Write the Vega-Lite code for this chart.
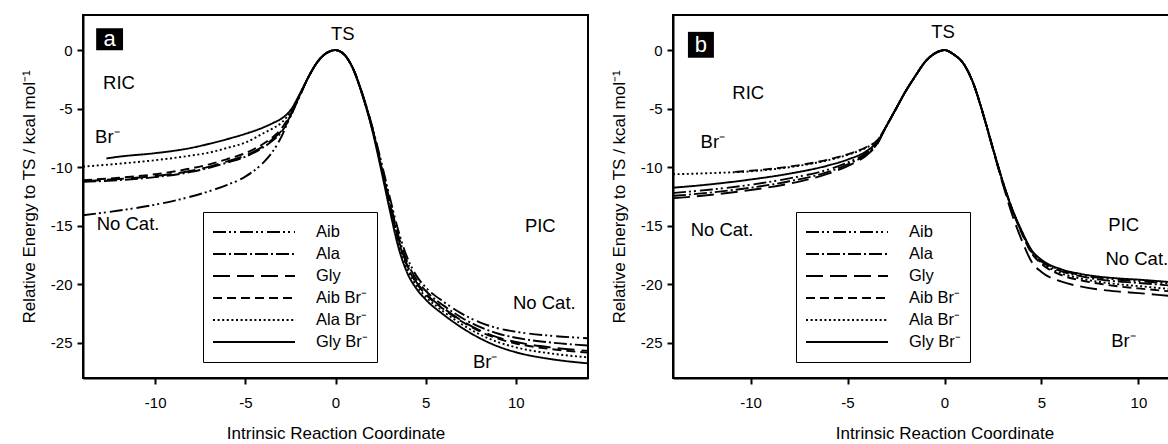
{
  "$schema": "https://vega.github.io/schema/vega-lite/v6.json",
  "padding": {"left": 19, "top": 14, "right": 0, "bottom": 0},
  "config": {
    "font": "Liberation Sans",
    "view": {"stroke": "black", "strokeWidth": 2},
    "axis": {"grid": false, "domainColor": "black", "domainWidth": 2, "tickColor": "black", "tickWidth": 2, "tickSize": 6, "labelFontSize": 15, "labelColor": "black", "labelFont": "Liberation Sans", "titleFont": "Liberation Sans", "titleFontSize": 17, "titleFontWeight": "normal", "titleColor": "black"},
    "axisX": {"labelPadding": 11, "titlePadding": 15},
    "axisY": {"labelPadding": 5, "titlePadding": 12}
  },
  "datasets": {
    "curvesA": [
      {"x": -14, "Aib": -14.1, "Ala": -11.25, "Gly": -11.2, "Aib Br⁻": -11.1, "Ala Br⁻": -9.95},
      {"x": -12.7, "Gly Br⁻": -9.25},
      {"x": -12, "Aib": -13.7, "Ala": -11.1, "Gly": -11.0, "Aib Br⁻": -10.9, "Ala Br⁻": -9.7, "Gly Br⁻": -9.1},
      {"x": -10, "Aib": -13.2, "Ala": -10.85, "Gly": -10.75, "Aib Br⁻": -10.6, "Ala Br⁻": -9.4, "Gly Br⁻": -8.8},
      {"x": -8, "Aib": -12.5, "Ala": -10.4, "Gly": -10.3, "Aib Br⁻": -10.1, "Ala Br⁻": -9.0, "Gly Br⁻": -8.35},
      {"x": -7, "Aib": -12.05, "Ala": -10.05, "Gly": -9.95, "Aib Br⁻": -9.75, "Ala Br⁻": -8.75, "Gly Br⁻": -8.0},
      {"x": -6, "Aib": -11.5, "Ala": -9.6, "Gly": -9.5, "Aib Br⁻": -9.3, "Ala Br⁻": -8.35, "Gly Br⁻": -7.6},
      {"x": -5, "Aib": -10.8, "Ala": -9.1, "Gly": -9.0, "Aib Br⁻": -8.8, "Ala Br⁻": -7.9, "Gly Br⁻": -7.15},
      {"x": -4, "Aib": -9.6, "Ala": -8.3, "Gly": -8.2, "Aib Br⁻": -8.0, "Ala Br⁻": -7.1, "Gly Br⁻": -6.6},
      {"x": -3.5, "Aib": -8.7, "Ala": -7.75, "Gly": -7.6, "Aib Br⁻": -7.45, "Ala Br⁻": -6.7, "Gly Br⁻": -6.25},
      {"x": -3, "Aib": -7.4, "Ala": -7.0, "Gly": -6.9, "Aib Br⁻": -6.7, "Ala Br⁻": -6.2, "Gly Br⁻": -5.85},
      {"x": -2.5, "Aib": -5.6, "Ala": -5.7, "Gly": -5.6, "Aib Br⁻": -5.5, "Ala Br⁻": -5.3, "Gly Br⁻": -5.15},
      {"x": -2, "Aib": -4.0, "Ala": -3.95, "Gly": -3.9, "Aib Br⁻": -3.9, "Ala Br⁻": -3.85, "Gly Br⁻": -3.8},
      {"x": -1.5, "Aib": -2.3, "Ala": -2.3, "Gly": -2.3, "Aib Br⁻": -2.3, "Ala Br⁻": -2.3, "Gly Br⁻": -2.3},
      {"x": -1, "Aib": -1.0, "Ala": -1.0, "Gly": -1.0, "Aib Br⁻": -1.0, "Ala Br⁻": -1.0, "Gly Br⁻": -1.0},
      {"x": -0.5, "Aib": -0.25, "Ala": -0.25, "Gly": -0.25, "Aib Br⁻": -0.25, "Ala Br⁻": -0.25, "Gly Br⁻": -0.25},
      {"x": 0, "Aib": 0, "Ala": 0, "Gly": 0, "Aib Br⁻": 0, "Ala Br⁻": 0, "Gly Br⁻": 0},
      {"x": 0.5, "Aib": -0.4, "Ala": -0.4, "Gly": -0.4, "Aib Br⁻": -0.4, "Ala Br⁻": -0.4, "Gly Br⁻": -0.4},
      {"x": 1, "Aib": -1.65, "Ala": -1.66, "Gly": -1.68, "Aib Br⁻": -1.68, "Ala Br⁻": -1.69, "Gly Br⁻": -1.7},
      {"x": 1.5, "Aib": -3.75, "Ala": -3.79, "Gly": -3.83, "Aib Br⁻": -3.84, "Ala Br⁻": -3.86, "Gly Br⁻": -3.9},
      {"x": 2, "Aib": -6.3, "Ala": -6.39, "Gly": -6.45, "Aib Br⁻": -6.47, "Ala Br⁻": -6.53, "Gly Br⁻": -6.6},
      {"x": 2.5, "Aib": -9.3, "Ala": -9.5, "Gly": -9.65, "Aib Br⁻": -9.7, "Ala Br⁻": -9.83, "Gly Br⁻": -10.0},
      {"x": 3, "Aib": -12.5, "Ala": -12.82, "Gly": -13.05, "Aib Br⁻": -13.13, "Ala Br⁻": -13.34, "Gly Br⁻": -13.6},
      {"x": 3.5, "Aib": -15.5, "Ala": -15.91, "Gly": -16.2, "Aib Br⁻": -16.3, "Ala Br⁻": -16.56, "Gly Br⁻": -16.9},
      {"x": 4, "Aib": -17.8, "Ala": -18.18, "Gly": -18.45, "Aib Br⁻": -18.54, "Ala Br⁻": -18.79, "Gly Br⁻": -19.1},
      {"x": 4.5, "Aib": -19.3, "Ala": -19.62, "Gly": -19.85, "Aib Br⁻": -19.93, "Ala Br⁻": -20.14, "Gly Br⁻": -20.4},
      {"x": 5, "Aib": -20.25, "Ala": -20.55, "Gly": -20.78, "Aib Br⁻": -20.85, "Ala Br⁻": -21.05, "Gly Br⁻": -21.3},
      {"x": 6, "Aib": -21.5, "Ala": -21.82, "Gly": -22.05, "Aib Br⁻": -22.13, "Ala Br⁻": -22.34, "Gly Br⁻": -22.6},
      {"x": 7, "Aib": -22.5, "Ala": -22.85, "Gly": -23.1, "Aib Br⁻": -23.18, "Ala Br⁻": -23.41, "Gly Br⁻": -23.7},
      {"x": 8, "Aib": -23.25, "Ala": -23.64, "Gly": -23.93, "Aib Br⁻": -24.02, "Ala Br⁻": -24.28, "Gly Br⁻": -24.6},
      {"x": 9, "Aib": -23.75, "Ala": -24.2, "Gly": -24.53, "Aib Br⁻": -24.63, "Ala Br⁻": -24.93, "Gly Br⁻": -25.3},
      {"x": 10, "Aib": -24.05, "Ala": -24.56, "Gly": -24.93, "Aib Br⁻": -25.05, "Ala Br⁻": -25.38, "Gly Br⁻": -25.8},
      {"x": 12, "Aib": -24.4, "Ala": -24.98, "Gly": -25.4, "Aib Br⁻": -25.54, "Ala Br⁻": -25.92, "Gly Br⁻": -26.4},
      {"x": 14, "Aib": -24.6, "Ala": -25.22, "Gly": -25.68, "Aib Br⁻": -25.83, "Ala Br⁻": -26.23, "Gly Br⁻": -26.75}
    ],
    "curvesB": [
      {"x": -14, "Aib": -12.2, "Ala": -12.45, "Gly": -12.65, "Ala Br⁻": -10.6, "Gly Br⁻": -11.75},
      {"x": -12, "Aib": -11.9, "Ala": -12.15, "Gly": -12.35, "Ala Br⁻": -10.5, "Gly Br⁻": -11.45},
      {"x": -10.8, "Aib Br⁻": -10.4},
      {"x": -10, "Aib": -11.5, "Ala": -11.75, "Gly": -11.95, "Aib Br⁻": -10.3, "Ala Br⁻": -10.35, "Gly Br⁻": -11.05},
      {"x": -8, "Aib": -10.95, "Ala": -11.2, "Gly": -11.4, "Aib Br⁻": -9.95, "Ala Br⁻": -10.0, "Gly Br⁻": -10.55},
      {"x": -6, "Aib": -10.2, "Ala": -10.4, "Gly": -10.55, "Aib Br⁻": -9.35, "Ala Br⁻": -9.4, "Gly Br⁻": -9.85},
      {"x": -5, "Aib": -9.6, "Ala": -9.75, "Gly": -9.9, "Aib Br⁻": -8.9, "Ala Br⁻": -8.95, "Gly Br⁻": -9.35},
      {"x": -4, "Aib": -8.75, "Ala": -8.85, "Gly": -8.95, "Aib Br⁻": -8.25, "Ala Br⁻": -8.3, "Gly Br⁻": -8.6},
      {"x": -3.5, "Aib": -8.0, "Ala": -8.05, "Gly": -8.1, "Aib Br⁻": -7.75, "Ala Br⁻": -7.8, "Gly Br⁻": -7.9},
      {"x": -3, "Aib": -6.5, "Ala": -6.5, "Gly": -6.5, "Aib Br⁻": -6.5, "Ala Br⁻": -6.5, "Gly Br⁻": -6.5},
      {"x": -2.5, "Aib": -5.0, "Ala": -5.0, "Gly": -5.0, "Aib Br⁻": -5.0, "Ala Br⁻": -5.0, "Gly Br⁻": -5.0},
      {"x": -2, "Aib": -3.5, "Ala": -3.5, "Gly": -3.5, "Aib Br⁻": -3.5, "Ala Br⁻": -3.5, "Gly Br⁻": -3.5},
      {"x": -1.5, "Aib": -2.2, "Ala": -2.2, "Gly": -2.2, "Aib Br⁻": -2.2, "Ala Br⁻": -2.2, "Gly Br⁻": -2.2},
      {"x": -1, "Aib": -1.0, "Ala": -1.0, "Gly": -1.0, "Aib Br⁻": -1.0, "Ala Br⁻": -1.0, "Gly Br⁻": -1.0},
      {"x": -0.5, "Aib": -0.28, "Ala": -0.28, "Gly": -0.28, "Aib Br⁻": -0.28, "Ala Br⁻": -0.28, "Gly Br⁻": -0.28},
      {"x": 0, "Aib": 0, "Ala": 0, "Gly": 0, "Aib Br⁻": 0, "Ala Br⁻": 0, "Gly Br⁻": 0},
      {"x": 0.5, "Aib": -0.4, "Ala": -0.4, "Gly": -0.4, "Aib Br⁻": -0.4, "Ala Br⁻": -0.4, "Gly Br⁻": -0.4},
      {"x": 1, "Aib": -1.2, "Ala": -1.2, "Gly": -1.2, "Aib Br⁻": -1.2, "Ala Br⁻": -1.2, "Gly Br⁻": -1.2},
      {"x": 1.5, "Aib": -2.9, "Ala": -2.9, "Gly": -2.9, "Aib Br⁻": -2.9, "Ala Br⁻": -2.9, "Gly Br⁻": -2.9},
      {"x": 2, "Aib": -5.5, "Ala": -5.5, "Gly": -5.55, "Aib Br⁻": -5.5, "Ala Br⁻": -5.5, "Gly Br⁻": -5.5},
      {"x": 2.5, "Aib": -8.4, "Ala": -8.42, "Gly": -8.5, "Aib Br⁻": -8.42, "Ala Br⁻": -8.42, "Gly Br⁻": -8.4},
      {"x": 3, "Aib": -11.2, "Ala": -11.25, "Gly": -11.4, "Aib Br⁻": -11.25, "Ala Br⁻": -11.25, "Gly Br⁻": -11.2},
      {"x": 3.5, "Aib": -13.62, "Ala": -13.65, "Gly": -14.1, "Aib Br⁻": -13.7, "Ala Br⁻": -13.68, "Gly Br⁻": -13.6},
      {"x": 4, "Aib": -15.55, "Ala": -15.6, "Gly": -16.3, "Aib Br⁻": -15.7, "Ala Br⁻": -15.65, "Gly Br⁻": -15.5},
      {"x": 4.5, "Aib": -17.15, "Ala": -17.22, "Gly": -18.1, "Aib Br⁻": -17.37, "Ala Br⁻": -17.3, "Gly Br⁻": -17.1},
      {"x": 5, "Aib": -17.97, "Ala": -18.05, "Gly": -18.95, "Aib Br⁻": -18.25, "Ala Br⁻": -18.15, "Gly Br⁻": -17.9},
      {"x": 6, "Aib": -18.78, "Ala": -18.88, "Gly": -19.75, "Aib Br⁻": -19.2, "Ala Br⁻": -19.05, "Gly Br⁻": -18.7},
      {"x": 7, "Aib": -19.2, "Ala": -19.3, "Gly": -20.18, "Aib Br⁻": -19.65, "Ala Br⁻": -19.5, "Gly Br⁻": -19.1},
      {"x": 8, "Aib": -19.45, "Ala": -19.6, "Gly": -20.45, "Aib Br⁻": -19.95, "Ala Br⁻": -19.8, "Gly Br⁻": -19.35},
      {"x": 9, "Aib": -19.61, "Ala": -19.77, "Gly": -20.62, "Aib Br⁻": -20.18, "Ala Br⁻": -20.0, "Gly Br⁻": -19.5},
      {"x": 10, "Aib": -19.72, "Ala": -19.88, "Gly": -20.75, "Aib Br⁻": -20.35, "Ala Br⁻": -20.15, "Gly Br⁻": -19.6},
      {"x": 12, "Aib": -19.98, "Ala": -20.15, "Gly": -21.05, "Aib Br⁻": -20.65, "Ala Br⁻": -20.45, "Gly Br⁻": -19.85},
      {"x": 14, "Aib": -20.2, "Ala": -20.35, "Gly": -21.3, "Aib Br⁻": -20.9, "Ala Br⁻": -20.7, "Gly Br⁻": -20.05}
    ],
    "boxA": [{"x": -13.27, "xe": -11.78, "y": 1.86, "ye": 0, "cx": -12.52, "cy": 0.93, "t": "a"}],
    "boxB": [{"x": -13.23, "xe": -11.89, "y": 1.56, "ye": -0.65, "cx": -12.56, "cy": 0.45, "t": "b"}],
    "tsA": [{"x": 0.4, "y": 1.41, "t": "TS"}],
    "tsB": [{"x": -0.08, "y": 1.56, "t": "TS"}],
    "labelsA": [
      {"x": -12.89, "y": -2.8, "t": "RIC"},
      {"x": -13.33, "y": -7.44, "t": "Br⁻"},
      {"x": -13.24, "y": -14.83, "t": "No Cat."},
      {"x": 10.5, "y": -15.0, "t": "PIC"},
      {"x": 9.84, "y": -21.6, "t": "No Cat."},
      {"x": 7.62, "y": -26.6, "t": "Br⁻"}
    ],
    "labelsB": [
      {"x": -10.94, "y": -3.68, "t": "RIC"},
      {"x": -12.58, "y": -7.85, "t": "Br⁻"},
      {"x": -13.09, "y": -15.35, "t": "No Cat."},
      {"x": 8.45, "y": -14.92, "t": "PIC"},
      {"x": 8.3, "y": -17.8, "t": "No Cat."},
      {"x": 8.6, "y": -24.8, "t": "Br⁻"}
    ]
  },
  "spacing": 20,
  "resolve": {"scale": {"x": "independent", "y": "independent", "strokeDash": "independent"}, "legend": {"strokeDash": "independent"}, "axis": {"x": "independent", "y": "independent"}},
  "hconcat": [
    {
      "width": 505, "height": 363,
      "layer": [
        {
          "data": {"name": "curvesA"},
          "transform": [{"fold": ["Aib", "Ala", "Gly", "Aib Br⁻", "Ala Br⁻", "Gly Br⁻"], "as": ["series", "val"]}, {"filter": "isValid(datum.val)"}],
          "mark": {"type": "line", "color": "black", "strokeWidth": 1.9, "interpolate": "monotone", "clip": true},
          "encoding": {
            "x": {"field": "x", "type": "quantitative", "title": "Intrinsic Reaction Coordinate", "scale": {"domain": [-14, 14], "nice": false}, "axis": {"values": [-10, -5, 0, 5, 10], "labelExpr": "replace(datum.label, '−', '-')"}},
            "y": {"field": "val", "type": "quantitative", "title": "Relative Energy to TS / kcal mol⁻¹", "scale": {"domain": [-28, 3], "nice": false}, "axis": {"values": [-25, -20, -15, -10, -5, 0], "labelExpr": "replace(datum.label, '−', '-')"}},
            "strokeDash": {"field": "series", "type": "nominal", "scale": {"domain": ["Aib", "Ala", "Gly", "Aib Br⁻", "Ala Br⁻", "Gly Br⁻"], "range": [[13, 3, 2, 3, 2, 4], [13, 3, 2, 3], [17, 7], [9, 5], [2, 2.6], [1, 0]]},
              "legend": {"orient": "none", "legendX": 120, "legendY": 197, "title": null, "symbolType": "stroke", "symbolSize": 6724, "symbolStrokeWidth": 1.9, "symbolStrokeColor": "black", "clipHeight": 22, "rowPadding": 0, "labelOffset": 20, "labelFontSize": 16.5, "labelFont": "Liberation Sans", "labelColor": "black", "labelLimit": 200, "padding": 9, "strokeColor": "black", "fillColor": "white"}}
          }
        },
        {
          "data": {"name": "boxA"},
          "mark": {"type": "rect", "color": "black"},
          "encoding": {"x": {"field": "x", "type": "quantitative", "title": "Intrinsic Reaction Coordinate"}, "x2": {"field": "xe"}, "y": {"field": "y", "type": "quantitative", "title": "Relative Energy to TS / kcal mol⁻¹"}, "y2": {"field": "ye"}}
        },
        {
          "data": {"name": "boxA"},
          "mark": {"type": "text", "color": "white", "fontSize": 22, "align": "center", "baseline": "middle", "font": "Liberation Sans"},
          "encoding": {"x": {"field": "cx", "type": "quantitative", "title": "Intrinsic Reaction Coordinate"}, "y": {"field": "cy", "type": "quantitative", "title": "Relative Energy to TS / kcal mol⁻¹"}, "text": {"field": "t"}}
        },
        {
          "data": {"name": "tsA"},
          "mark": {"type": "text", "color": "black", "fontSize": 18.5, "align": "center", "baseline": "middle", "font": "Liberation Sans"},
          "encoding": {"x": {"field": "x", "type": "quantitative", "title": "Intrinsic Reaction Coordinate"}, "y": {"field": "y", "type": "quantitative", "title": "Relative Energy to TS / kcal mol⁻¹"}, "text": {"field": "t"}}
        },
        {
          "data": {"name": "labelsA"},
          "mark": {"type": "text", "color": "black", "fontSize": 18.5, "align": "left", "baseline": "middle", "font": "Liberation Sans"},
          "encoding": {"x": {"field": "x", "type": "quantitative", "title": "Intrinsic Reaction Coordinate"}, "y": {"field": "y", "type": "quantitative", "title": "Relative Energy to TS / kcal mol⁻¹"}, "text": {"field": "t"}}
        }
      ]
    },
    {
      "width": 543, "height": 363,
      "layer": [
        {
          "data": {"name": "curvesB"},
          "transform": [{"fold": ["Aib", "Ala", "Gly", "Aib Br⁻", "Ala Br⁻", "Gly Br⁻"], "as": ["series", "val"]}, {"filter": "isValid(datum.val)"}],
          "mark": {"type": "line", "color": "black", "strokeWidth": 1.9, "interpolate": "monotone", "clip": true},
          "encoding": {
            "x": {"field": "x", "type": "quantitative", "title": "Intrinsic Reaction Coordinate", "scale": {"domain": [-14, 14], "nice": false}, "axis": {"values": [-10, -5, 0, 5, 10], "labelExpr": "replace(datum.label, '−', '-')"}},
            "y": {"field": "val", "type": "quantitative", "title": "Relative Energy to TS / kcal mol⁻¹", "scale": {"domain": [-28, 3], "nice": false}, "axis": {"values": [-25, -20, -15, -10, -5, 0], "labelExpr": "replace(datum.label, '−', '-')"}},
            "strokeDash": {"field": "series", "type": "nominal", "scale": {"domain": ["Aib", "Ala", "Gly", "Aib Br⁻", "Ala Br⁻", "Gly Br⁻"], "range": [[13, 3, 2, 3, 2, 4], [13, 3, 2, 3], [17, 7], [9, 5], [2, 2.6], [1, 0]]},
              "legend": {"orient": "none", "legendX": 123, "legendY": 197, "title": null, "symbolType": "stroke", "symbolSize": 6724, "symbolStrokeWidth": 1.9, "symbolStrokeColor": "black", "clipHeight": 22, "rowPadding": 0, "labelOffset": 20, "labelFontSize": 16.5, "labelFont": "Liberation Sans", "labelColor": "black", "labelLimit": 200, "padding": 9, "strokeColor": "black", "fillColor": "white"}}
          }
        },
        {
          "data": {"name": "boxB"},
          "mark": {"type": "rect", "color": "black"},
          "encoding": {"x": {"field": "x", "type": "quantitative", "title": "Intrinsic Reaction Coordinate"}, "x2": {"field": "xe"}, "y": {"field": "y", "type": "quantitative", "title": "Relative Energy to TS / kcal mol⁻¹"}, "y2": {"field": "ye"}}
        },
        {
          "data": {"name": "boxB"},
          "mark": {"type": "text", "color": "white", "fontSize": 22, "align": "center", "baseline": "middle", "font": "Liberation Sans"},
          "encoding": {"x": {"field": "cx", "type": "quantitative", "title": "Intrinsic Reaction Coordinate"}, "y": {"field": "cy", "type": "quantitative", "title": "Relative Energy to TS / kcal mol⁻¹"}, "text": {"field": "t"}}
        },
        {
          "data": {"name": "tsB"},
          "mark": {"type": "text", "color": "black", "fontSize": 18.5, "align": "center", "baseline": "middle", "font": "Liberation Sans"},
          "encoding": {"x": {"field": "x", "type": "quantitative", "title": "Intrinsic Reaction Coordinate"}, "y": {"field": "y", "type": "quantitative", "title": "Relative Energy to TS / kcal mol⁻¹"}, "text": {"field": "t"}}
        },
        {
          "data": {"name": "labelsB"},
          "mark": {"type": "text", "color": "black", "fontSize": 18.5, "align": "left", "baseline": "middle", "font": "Liberation Sans"},
          "encoding": {"x": {"field": "x", "type": "quantitative", "title": "Intrinsic Reaction Coordinate"}, "y": {"field": "y", "type": "quantitative", "title": "Relative Energy to TS / kcal mol⁻¹"}, "text": {"field": "t"}}
        }
      ]
    }
  ]
}
